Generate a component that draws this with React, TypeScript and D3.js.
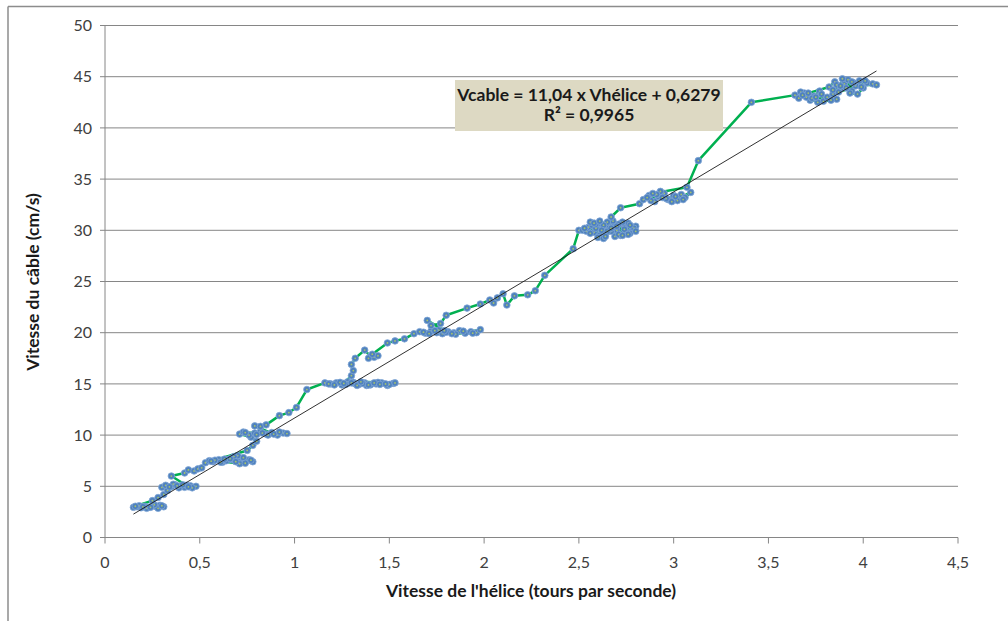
import React from 'react';
import * as d3 from 'd3';

// Measured series: helix speed (tours/s) vs cable speed (cm/s), in acquisition order
const vHelice = [
  0.15, 0.17, 0.19, 0.21, 0.18, 0.23, 0.25, 0.22, 0.27, 0.29, 0.31, 0.28, 0.30, 0.26, 0.24, 0.20, 0.16,
  0.25, 0.28, 0.31, 0.33, 0.30,
  0.32, 0.35, 0.37, 0.40, 0.42, 0.45, 0.48, 0.46, 0.43, 0.39, 0.36, 0.34, 0.38, 0.41, 0.44,
  0.35, 0.42, 0.44, 0.47, 0.49, 0.51,
  0.53, 0.55, 0.57, 0.60, 0.62, 0.64, 0.67, 0.70, 0.72, 0.75, 0.78, 0.76, 0.73, 0.70, 0.68, 0.66, 0.71,
  0.58, 0.61, 0.63, 0.69, 0.74, 0.77, 0.56,
  0.75, 0.78, 0.80, 0.77,
  0.71, 0.73, 0.76, 0.79, 0.82, 0.85, 0.88, 0.91, 0.94, 0.96, 0.92, 0.86, 0.83, 0.80, 0.74, 0.89,
  0.79, 0.82, 0.85, 0.92, 0.97, 1.01, 1.065,
  1.16, 1.19, 1.22, 1.25, 1.28, 1.31, 1.34, 1.37, 1.40, 1.43, 1.46, 1.49, 1.52, 1.50, 1.44, 1.38, 1.32, 1.28,
  1.18, 1.21, 1.24, 1.27, 1.30, 1.33, 1.36, 1.39, 1.42, 1.45, 1.48, 1.53, 1.35, 1.26,
  1.30, 1.31, 1.30, 1.32, 1.37, 1.40, 1.42, 1.44, 1.39, 1.41,
  1.49, 1.53, 1.58, 1.63,
  1.66, 1.69, 1.72, 1.75, 1.78, 1.81, 1.84, 1.87, 1.90, 1.93, 1.96, 1.98, 1.85, 1.76,
  1.68, 1.71, 1.74, 1.80, 1.83, 1.89, 1.94, 1.79,
  1.70, 1.72, 1.77, 1.80, 1.91, 1.98, 2.03, 2.05, 2.07, 2.10, 2.12, 2.16, 2.23, 2.27, 2.32, 2.47,
  2.50, 2.52, 2.55, 2.58, 2.60, 2.62, 2.64, 2.66, 2.68, 2.70, 2.72, 2.74, 2.76, 2.78, 2.80, 2.77,
  2.73, 2.69, 2.65, 2.61, 2.57, 2.54, 2.59, 2.63, 2.67, 2.71, 2.75, 2.79, 2.56, 2.60, 2.63,
  2.53, 2.56, 2.59, 2.62, 2.65, 2.68, 2.71, 2.74, 2.77, 2.80, 2.58, 2.64, 2.70, 2.76, 2.61, 2.67, 2.73,
  2.67, 2.72, 2.82,
  2.84, 2.87, 2.90, 2.92, 2.95, 2.97, 3.00, 3.02, 3.04, 3.06, 3.09, 2.99, 2.93, 2.88,
  2.86, 2.91, 2.96, 3.01, 3.05, 2.94, 2.89,
  3.07, 3.13, 3.41, 3.64,
  3.66, 3.69, 3.72, 3.74, 3.77, 3.79, 3.81, 3.84, 3.86, 3.76, 3.70, 3.67,
  3.68, 3.73, 3.78, 3.83, 3.75, 3.71,
  3.82, 3.85, 3.88, 3.90, 3.92, 3.94, 3.96, 3.98, 4.00, 3.97, 3.93, 3.89, 3.87, 4.02, 4.05, 4.07,
  3.86, 3.91, 3.95, 3.99, 4.01, 3.84, 3.88, 3.94,
];

const vCable = [
  2.95, 3.0, 2.9, 3.05, 3.1, 2.95, 3.1, 2.85, 3.0, 3.15, 3.0, 2.85, 3.1, 3.2, 2.95, 3.0, 3.05,
  3.6, 3.9, 4.2, 4.6, 4.9,
  5.1, 4.95, 5.15, 5.0, 4.9, 5.05, 5.0, 4.85, 5.1, 4.85, 5.2, 4.95, 5.05, 5.15, 4.95,
  6.0, 6.3, 6.6, 6.5, 6.7, 6.8,
  7.3, 7.5, 7.4, 7.6, 7.35, 7.5, 7.6, 7.45, 7.3, 7.5, 7.4, 7.6, 7.8, 8.0, 7.9, 7.7, 7.2,
  7.55, 7.35, 7.65, 7.4, 7.25, 7.55, 7.45,
  8.5, 9.0, 9.4, 9.8,
  10.1, 10.3, 10.0, 10.2, 10.35, 10.1, 10.25, 10.0, 10.2, 10.15, 10.3, 10.0, 10.2, 10.05, 10.25, 10.1,
  10.9, 10.85, 11.0, 11.9, 12.2, 12.7, 14.45,
  15.1, 15.0, 15.1, 14.9, 15.05, 15.15, 14.95, 15.1, 14.9, 15.0, 15.1, 14.85, 15.05, 14.95, 15.15, 14.85, 15.0, 15.2,
  15.0, 14.9, 15.15, 14.95, 15.1, 14.85, 15.05, 14.9, 15.1, 14.95, 15.0, 15.1, 15.2, 15.05,
  15.8, 16.3, 16.9, 17.5, 18.3, 17.7, 17.6, 17.75, 17.5, 17.9,
  19.0, 19.2, 19.4, 19.9,
  20.1, 19.95, 20.15, 20.0, 19.9, 20.1, 20.0, 20.2, 19.95, 20.1, 20.0, 20.3, 19.85, 20.25,
  20.05, 19.9, 20.2, 20.05, 19.9, 20.15, 19.95, 20.2,
  21.2, 20.7, 20.9, 21.7, 22.4, 22.8, 23.2, 22.9, 23.4, 23.8, 22.7, 23.6, 23.7, 24.1, 25.6, 28.2,
  30.0, 30.0, 30.3, 29.8, 30.6, 30.1, 29.6, 30.4, 30.9, 30.0, 29.5, 30.3, 30.7, 30.0, 30.4, 29.7,
  30.8, 29.4, 30.8, 29.5, 30.5, 29.9, 30.2, 30.5, 29.9, 30.6, 29.8, 30.2, 30.8, 29.3, 29.2,
  30.2, 29.7, 30.6, 30.0, 29.9, 30.3, 29.6, 30.1, 30.5, 29.9, 30.7, 29.4, 30.4, 29.6, 30.9, 30.2, 29.5,
  31.3, 32.2, 32.6,
  33.0, 33.4, 32.8, 33.3, 33.6, 33.0, 33.4, 32.9, 33.5, 33.2, 33.7, 32.8, 33.8, 32.9,
  33.2, 33.5, 33.1, 33.3, 33.0, 33.2, 33.6,
  34.2, 36.8, 42.5, 43.2,
  42.9, 43.4, 42.7, 43.1, 43.6, 42.6, 43.0, 43.3, 42.8, 42.5, 43.0, 43.5,
  43.2, 42.9, 43.3, 42.7, 43.0, 43.4,
  44.0, 44.5, 43.8, 44.3, 44.7, 43.6, 44.1, 44.6, 43.9, 43.3, 43.4, 44.8, 43.5, 44.4, 44.3, 44.2,
  44.2, 43.9, 44.4, 44.0, 44.6, 43.7, 44.1, 44.5,
];

const xTicks = [0, 0.5, 1, 1.5, 2, 2.5, 3, 3.5, 4, 4.5];
const yTicks = [0, 5, 10, 15, 20, 25, 30, 35, 40, 45, 50];

const slope = 11.04;
const intercept = 0.6279;
const equationLines = ['Vcable = 11,04 x Vhélice + 0,6279', 'R² = 0,9965'];

const W = 1008;
const H = 621;
const FONT = 'Lato, "Open Sans", sans-serif';

const App: React.FC = () => {
  const x = d3.scaleLinear().domain([0, 4.5]).range([105, 958]);
  const y = d3.scaleLinear().domain([0, 50]).range([537.5, 25.5]);

  const points = vHelice.map((v, i) => [v, vCable[i]] as [number, number]);
  const line = d3.line<[number, number]>().x(d => x(d[0])).y(d => y(d[1]));

  const xMin = d3.min(vHelice) as number;
  const xMax = d3.max(vHelice) as number;
  const fmt = (v: number) => String(v).replace('.', ',');

  return (
    <svg width={W} height={H} style={{ position: 'absolute', left: 0, top: 0, background: '#fff' }}>
      {/* chart frame */}
      <line x1={8} x2={W} y1={6.5} y2={6.5} stroke="#8c8c8c" strokeWidth={1.5} />
      <line x1={8} x2={8} y1={6.5} y2={H} stroke="#8c8c8c" strokeWidth={1.5} />

      {/* gridlines */}
      {yTicks.filter(t => t > 0).map(t => (
        <line key={t} x1={x(0)} x2={x(4.5)} y1={y(t)} y2={y(t)} stroke="#868686" strokeWidth={1} />
      ))}

      {/* axes */}
      <line x1={x(0)} x2={x(0)} y1={y(0)} y2={y(50)} stroke="#868686" strokeWidth={1} />
      <line x1={x(0)} x2={x(4.5)} y1={y(0)} y2={y(0)} stroke="#868686" strokeWidth={1} />
      {yTicks.map(t => (
        <g key={t}>
          <line x1={x(0) - 5} x2={x(0)} y1={y(t)} y2={y(t)} stroke="#868686" />
          <text x={92} y={y(t)} dy="0.35em" textAnchor="end" fontFamily={FONT} fontSize={16} fill="#404040">
            {fmt(t)}
          </text>
        </g>
      ))}
      {xTicks.map(t => (
        <g key={t}>
          <line x1={x(t)} x2={x(t)} y1={y(0)} y2={y(0) + 6} stroke="#868686" />
          <text x={x(t)} y={562} dy="0.35em" textAnchor="middle" fontFamily={FONT} fontSize={16} fill="#404040">
            {fmt(t)}
          </text>
        </g>
      ))}

      {/* axis titles */}
      <text x={531} y={591} dy="0.35em" textAnchor="middle" fontFamily={FONT} fontSize={17.5} fontWeight="bold" fill="#1a1a1a">
        Vitesse de l'hélice (tours par seconde)
      </text>
      <text
        transform={`translate(33,282) rotate(-90)`}
        dy="0.35em"
        textAnchor="middle"
        fontFamily={FONT}
        fontSize={17.5}
        fontWeight="bold"
        fill="#1a1a1a"
      >
        Vitesse du câble (cm/s)
      </text>

      {/* series */}
      <path d={line(points) || ''} fill="none" stroke="#00b050" strokeWidth={2.5} strokeLinejoin="round" />
      {points.map((p, i) => (
        <g key={i}>
          <circle cx={x(p[0])} cy={y(p[1])} r={3.3} fill="#4f81bd" stroke="#7fa6d6" strokeWidth={0.8} />
          <circle cx={x(p[0])} cy={y(p[1])} r={0.9} fill="#a6c46a" />
        </g>
      ))}

      {/* linear trend */}
      <line
        x1={x(xMin)}
        x2={x(xMax)}
        y1={y(slope * xMin + intercept)}
        y2={y(slope * xMax + intercept)}
        stroke="#1a1a1a"
        strokeWidth={0.9}
      />

      {/* equation label */}
      <rect x={455} y={80} width={268} height={51} fill="#ddd9c3" />
      {equationLines.map((t, i) => (
        <text key={i} x={589} y={95 + i * 20} dy="0.35em" textAnchor="middle" fontFamily={FONT} fontSize={17.5} fontWeight="bold" fill="#1a1a1a">
          {t}
        </text>
      ))}
    </svg>
  );
};

export default App;
